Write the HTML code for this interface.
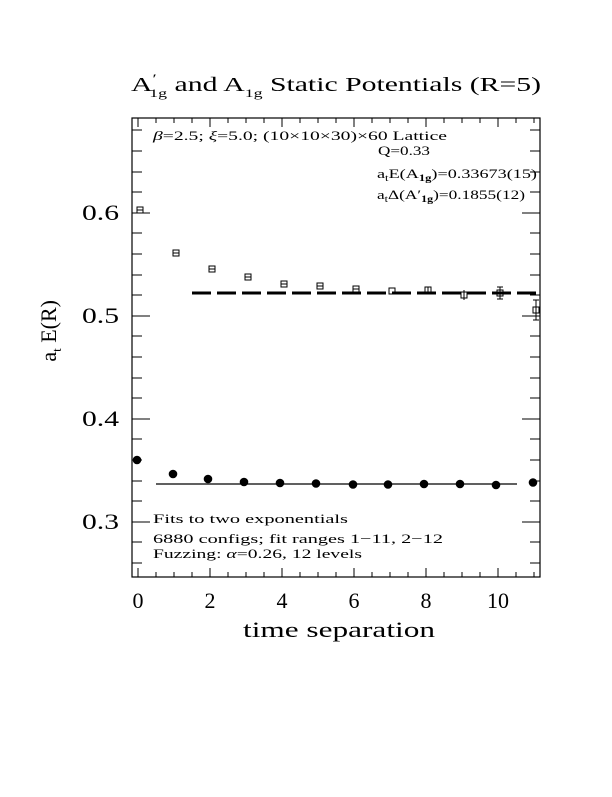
<!DOCTYPE html>
<html><head><style>body{margin:0;background:#fff}</style></head><body>
<svg width="612" height="792" xmlns="http://www.w3.org/2000/svg" font-family="Liberation Serif, serif">
<rect width="612" height="792" fill="#fff"/>
<text x="131" y="91" font-size="20" textLength="410" lengthAdjust="spacingAndGlyphs">A<tspan font-size="13" dy="-8">′</tspan><tspan font-size="12" dx="-5" dy="14">1g</tspan><tspan dy="-6"> and A</tspan><tspan font-size="12" dy="6">1g</tspan><tspan dy="-6"> Static Potentials (R=5)</tspan></text>
<rect x="132" y="118" width="408" height="459" fill="none" stroke="#000" stroke-width="1.2"/>
<g stroke="#000" stroke-width="1">
<path d="M138 577v-9M138 118v9M210 577v-9M210 118v9M282 577v-9M282 118v9M354 577v-9M354 118v9M426 577v-9M426 118v9M498 577v-9M498 118v9"/>
<path d="M156 577v-5M156 118v5M174 577v-5M174 118v5M192 577v-5M192 118v5M228 577v-5M228 118v5M246 577v-5M246 118v5M264 577v-5M264 118v5M300 577v-5M300 118v5M318 577v-5M318 118v5M336 577v-5M336 118v5M372 577v-5M372 118v5M390 577v-5M390 118v5M408 577v-5M408 118v5M444 577v-5M444 118v5M462 577v-5M462 118v5M480 577v-5M480 118v5M516 577v-5M516 118v5M534 577v-5M534 118v5"/>
<path d="M132 522h18M540 522h-18M132 419h18M540 419h-18M132 316h18M540 316h-18M132 213h18M540 213h-18"/>
<path d="M132 563h10M540 563h-10M132 542h10M540 542h-10M132 501h10M540 501h-10M132 481h10M540 481h-10M132 460h10M540 460h-10M132 439h10M540 439h-10M132 398h10M540 398h-10M132 378h10M540 378h-10M132 357h10M540 357h-10M132 336h10M540 336h-10M132 295h10M540 295h-10M132 275h10M540 275h-10M132 254h10M540 254h-10M132 233h10M540 233h-10M132 192h10M540 192h-10M132 172h10M540 172h-10M132 151h10M540 151h-10M132 130h10M540 130h-10"/>
</g>
<g font-size="22" text-anchor="middle">
<text x="138" y="608">0</text><text x="210" y="608">2</text><text x="282" y="608">4</text><text x="354" y="608">6</text><text x="426" y="608">8</text><text x="498" y="608">10</text>
</g>
<g font-size="22">
<text x="82" y="529" textLength="37" lengthAdjust="spacingAndGlyphs">0.3</text>
<text x="82" y="426" textLength="37" lengthAdjust="spacingAndGlyphs">0.4</text>
<text x="82" y="323" textLength="37" lengthAdjust="spacingAndGlyphs">0.5</text>
<text x="82" y="220" textLength="37" lengthAdjust="spacingAndGlyphs">0.6</text>
</g>
<text x="243" y="637" font-size="22" textLength="192" lengthAdjust="spacingAndGlyphs">time separation</text>
<text transform="translate(56,300) rotate(-90)" font-size="22" text-anchor="end">a<tspan font-size="13" dy="5">t</tspan><tspan dy="-5"> E(R)</tspan></text>
<g font-size="13">
<text x="153" y="140" textLength="294" lengthAdjust="spacingAndGlyphs"><tspan font-style="italic">β</tspan>=2.5; <tspan font-style="italic">ξ</tspan>=5.0; (10×10×30)×60 Lattice</text>
<text x="378" y="155" textLength="52" lengthAdjust="spacingAndGlyphs">Q=0.33</text>
<text x="377" y="178" textLength="160" lengthAdjust="spacingAndGlyphs">a<tspan font-size="9" dy="3">t</tspan><tspan dy="-3">E(A</tspan><tspan font-size="9" dy="3" font-weight="bold">1g</tspan><tspan dy="-3">)=0.33673(15)</tspan></text>
<text x="377" y="199" textLength="148" lengthAdjust="spacingAndGlyphs">a<tspan font-size="9" dy="3">t</tspan><tspan dy="-3">Δ(A′</tspan><tspan font-size="9" dy="3" font-weight="bold">1g</tspan><tspan dy="-3">)=0.1855(12)</tspan></text>
<text x="153" y="523" textLength="195" lengthAdjust="spacingAndGlyphs">Fits to two exponentials</text>
<text x="153" y="543" textLength="290" lengthAdjust="spacingAndGlyphs">6880 configs; fit ranges 1−11, 2−12</text>
<text x="153" y="558" textLength="209" lengthAdjust="spacingAndGlyphs">Fuzzing: <tspan font-style="italic">α</tspan>=0.26, 12 levels</text>
</g>
<line x1="156" y1="484" x2="517" y2="484" stroke="#000" stroke-width="1.3"/>
<line x1="192" y1="293" x2="540" y2="293" stroke="#000" stroke-width="3" stroke-dasharray="19,6"/>
<g fill="#000">
<circle cx="137" cy="460" r="4.3"/><circle cx="173" cy="474" r="4.3"/><circle cx="208" cy="479" r="4.3"/><circle cx="244" cy="482" r="4.3"/><circle cx="280" cy="483" r="4.3"/><circle cx="316" cy="483.5" r="4.3"/><circle cx="353" cy="484.5" r="4.3"/><circle cx="388" cy="484.5" r="4.3"/><circle cx="424" cy="484" r="4.3"/><circle cx="460" cy="484" r="4.3"/><circle cx="496" cy="485" r="4.3"/><circle cx="533" cy="482.5" r="4.3"/>
</g>
<g fill="none" stroke="#000" stroke-width="1">
<rect x="137" y="207" width="6" height="6"/><path d="M137 210h6"/>
<rect x="173" y="250" width="6" height="6"/><path d="M173 253h6"/>
<rect x="209" y="266" width="6" height="6"/><path d="M209 269h6"/>
<rect x="245" y="274" width="6" height="6"/><path d="M245 277h6"/>
<rect x="281" y="281" width="6" height="6"/><path d="M281 284h6"/>
<rect x="317" y="283" width="6" height="6"/><path d="M317 286h6"/>
<rect x="353" y="286" width="6" height="6"/><path d="M353 289h6"/>
<rect x="389" y="288" width="6" height="6"/>
<rect x="425" y="287" width="6" height="6"/><path d="M428 287v6"/>
<rect x="461" y="292" width="6" height="6"/><path d="M464 290v10"/>
<rect x="497" y="290" width="6" height="6"/><path d="M500 287v12M497 287h6M497 299h6"/>
<rect x="533" y="307" width="6" height="6"/><path d="M536 300v20M533 300h6M533 320h6"/>
</g>
</svg>
</body></html>
